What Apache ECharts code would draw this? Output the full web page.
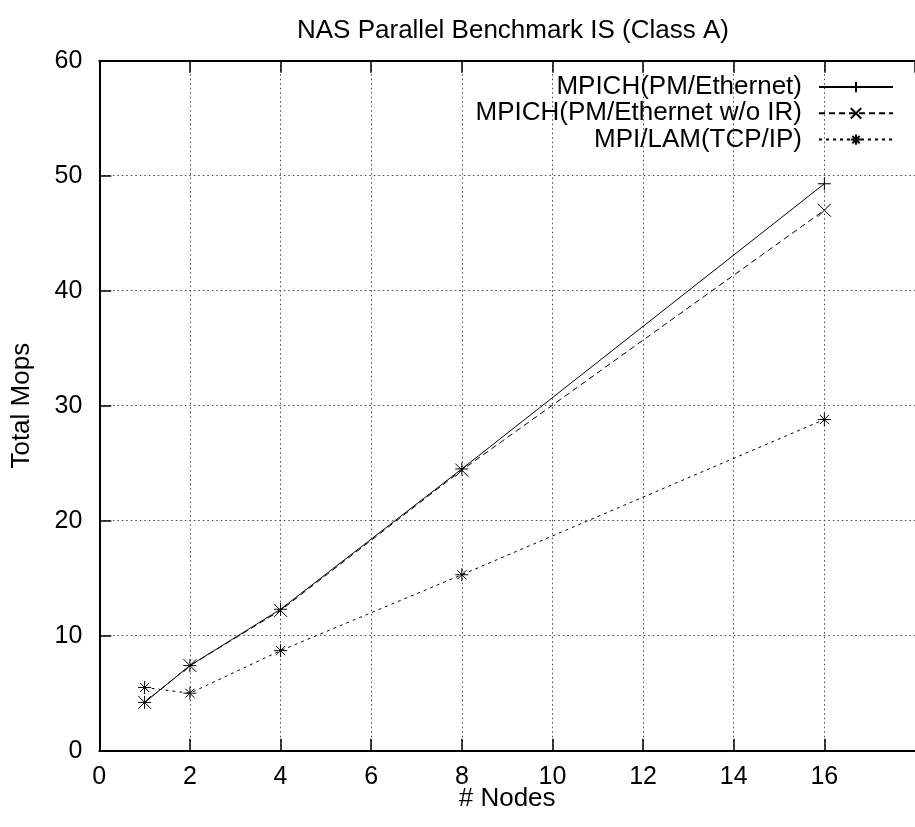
<!DOCTYPE html>
<html>
<head>
<meta charset="utf-8">
<script src="https://cdn.jsdelivr.net/npm/echarts@6/dist/echarts.min.js"></script>
<style>
html,body{margin:0;padding:0;background:#fff;}
#chart{width:915px;height:827px;}
</style>
</head>
<body>
<div id="chart"></div>
<script>
const titleText = 'NAS Parallel Benchmark IS (Class A)';
const xName = '# Nodes';
const yName = 'Total Mops';
const nodes = [1, 2, 4, 8, 16];
const seriesNames = ['MPICH(PM/Ethernet)', 'MPICH(PM/Ethernet w/o IR)', 'MPI/LAM(TCP/IP)'];
const mpichPM = [4.2, 7.4, 12.3, 24.5, 49.3];
const mpichNoIR = [4.2, 7.4, 12.2, 24.4, 47.0];
const mpiLam = [5.5, 5.0, 8.7, 15.3, 28.8];
const xMin = 0, xMax = 18, xStep = 2;
const yMin = 0, yMax = 60, yStep = 10;

const FONT = 'Liberation Sans';
const FS = 25;
const FT = 26;
const plus = 'path://M0,5L10,5M5,0L5,10';
const cross = 'path://M0,0L10,10M10,0L0,10';
const star = 'path://M0,5L10,5M5,0L5,10M1.5,1.5L8.5,8.5M8.5,1.5L1.5,8.5';

function pts(ys){ return nodes.map((x,i)=>[x, ys[i]]); }
function mk(name, ys, sym, dash){
  return {
    name: name, type: 'line', data: pts(ys),
    symbol: sym, symbolSize: 13,
    lineStyle: {color: '#000', width: 1, type: dash},
    itemStyle: {color: 'rgba(0,0,0,0)', borderColor: '#000', borderWidth: 1},
    emphasis: {disabled: true},
    animation: false, z: 3
  };
}

const chart = echarts.init(document.getElementById('chart'), null, {renderer: 'canvas'});
const gridLeft = 99.3, gridTop = 60.7, gridW = 825.75, gridH = 690;
chart.setOption({
  backgroundColor: '#fff',
  animation: false,
  textStyle: {fontFamily: FONT},
  title: {
    text: titleText, left: 508, top: 13, textAlign: 'center',
    textStyle: {fontFamily: FONT, fontSize: FT, fontWeight: 'normal', color: '#000'}
  },
  legend: {
    orient: 'vertical', right: 16, top: 69, align: 'right',
    itemWidth: 74, itemHeight: 13, itemGap: 0.3,
    data: seriesNames,
    selectedMode: false,
    textStyle: {fontFamily: FONT, fontSize: FT, color: '#000', lineHeight: 26, padding: [0, 12, 0, 0]}
  },
  grid: {left: gridLeft, top: gridTop, width: gridW, height: gridH, containLabel: false},
  xAxis: [{
    type: 'value', min: xMin, max: xMax, interval: xStep,
    name: xName, nameLocation: 'middle', nameGap: 35, nameMoveOverlap: false,
    nameTextStyle: {fontFamily: FONT, fontSize: FT, color: '#000'},
    axisLine: {lineStyle: {color: '#000', width: 2}},
    axisTick: {inside: true, length: 12, lineStyle: {color: '#000', width: 1.5}},
    axisLabel: {fontFamily: FONT, fontSize: FS, color: '#000', margin: 14, showMaxLabel: false},
    splitLine: {show: true, lineStyle: {color: '#444', width: 1, type: [1.5, 3]}}
  },{
    type: 'value', position: 'top', min: xMin, max: xMax, interval: xStep,
    axisLine: {lineStyle: {color: '#000', width: 2}},
    axisTick: {inside: true, length: 12, lineStyle: {color: '#000', width: 1.5}},
    axisLabel: {show: false},
    splitLine: {show: false}
  }],
  yAxis: [{
    type: 'value', min: yMin, max: yMax, interval: yStep,
    name: yName, nameLocation: 'middle', nameGap: 64, nameRotate: 90,
    nameTextStyle: {fontFamily: FONT, fontSize: FT, color: '#000'},
    axisLine: {lineStyle: {color: '#000', width: 2}},
    axisTick: {inside: true, length: 12, lineStyle: {color: '#000', width: 1.5}},
    axisLabel: {fontFamily: FONT, fontSize: FS, color: '#000', margin: 17},
    splitLine: {show: true, lineStyle: {color: '#444', width: 1, type: [1.5, 3]}}
  }],
  series: [
    mk(seriesNames[0], mpichPM, plus, 'solid'),
    mk(seriesNames[1], mpichNoIR, cross, [6, 4]),
    mk(seriesNames[2], mpiLam, star, [3, 4])
  ]
});
</script>
</body>
</html>
